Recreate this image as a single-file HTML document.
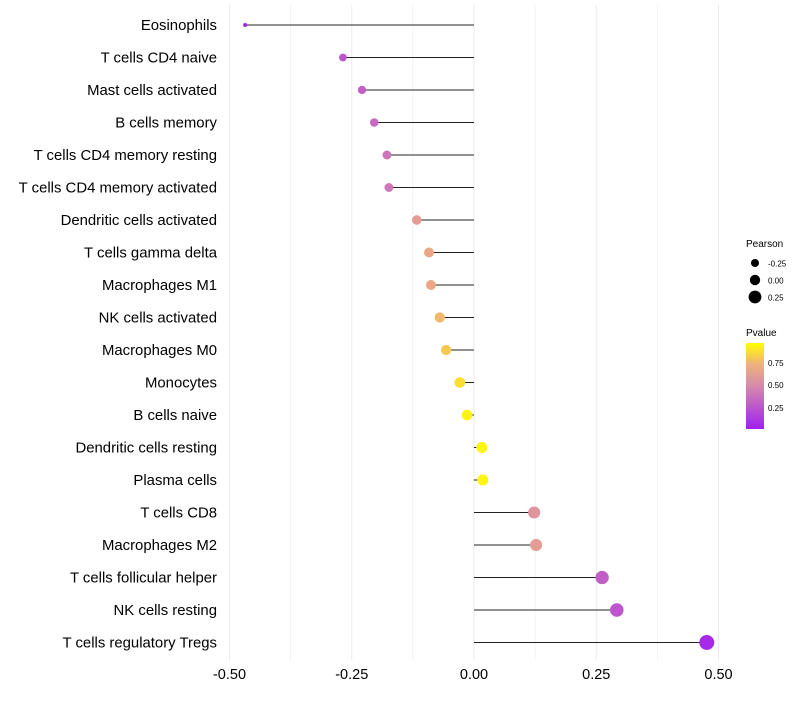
<!DOCTYPE html>
<html><head><meta charset="utf-8"><style>
body{margin:0;background:#fff;}
svg{font-family:"Liberation Sans",Arial,sans-serif;}
</style></head><body>
<svg id="chart" width="800" height="700" xmlns="http://www.w3.org/2000/svg">
<g id="grid"></g>
<g id="marks"></g>
<g id="ylabels"></g>
<g id="xlabels"></g>
<g id="legend">
  <defs><linearGradient id="pg" x1="0" y1="1" x2="0" y2="0">
    <stop offset="0" stop-color="#a020f0"/><stop offset="0.5" stop-color="#d889ac"/><stop offset="0.75" stop-color="#f0b07c"/><stop offset="1" stop-color="#ffff00"/>
  </linearGradient></defs>
  <text x="746" y="247" font-size="10">Pearson</text>
  <circle cx="755" cy="263" r="4" fill="#000"/>
  <text x="768" y="266.5" font-size="8">-0.25</text>
  <circle cx="755" cy="280" r="5.2" fill="#000"/>
  <text x="768" y="283.5" font-size="8">0.00</text>
  <circle cx="755" cy="297" r="6.4" fill="#000"/>
  <text x="768" y="300.5" font-size="8">0.25</text>
  <text x="746" y="336" font-size="10">Pvalue</text>
  <rect x="746" y="343" width="18" height="86" fill="url(#pg)"/>
  <text x="768" y="366" font-size="8">0.75</text>
  <text x="768" y="388" font-size="8">0.50</text>
  <text x="768" y="411" font-size="8">0.25</text>
</g>
</svg>
<script>
const categories=["Eosinophils","T cells CD4 naive","Mast cells activated","B cells memory","T cells CD4 memory resting","T cells CD4 memory activated","Dendritic cells activated","T cells gamma delta","Macrophages M1","NK cells activated","Macrophages M0","Monocytes","B cells naive","Dendritic cells resting","Plasma cells","T cells CD8","Macrophages M2","T cells follicular helper","NK cells resting","T cells regulatory  Tregs"];
const pearson=[-0.468,-0.268,-0.229,-0.204,-0.178,-0.174,-0.117,-0.092,-0.088,-0.070,-0.057,-0.029,-0.014,0.016,0.018,0.123,0.127,0.262,0.292,0.476];
const pvalue=[0.02,0.25,0.3,0.35,0.4,0.42,0.62,0.7,0.7,0.78,0.83,0.9,0.96,0.97,0.97,0.58,0.62,0.3,0.25,0.05];
const xTicks=[-0.5,-0.25,0,0.25,0.5];
const xTickLabels=["-0.50","-0.25","0.00","0.25","0.50"];
const NS="http://www.w3.org/2000/svg";
const X0=474,XS=489;
const xs=v=>X0+v*XS;
const ys=i=>25+i*32.5;
const rs=p=>Math.sqrt(Math.max(2,29.8+55.1*p));
function lerp(a,b,t){return a.map((v,i)=>Math.round(v+(b[i]-v)*t));}
function col(p){
  const stops=[[0,[160,32,240]],[0.5,[216,137,172]],[0.75,[240,176,124]],[1,[255,255,0]]];
  for(let i=0;i<stops.length-1;i++){if(p<=stops[i+1][0]){const t=(p-stops[i][0])/(stops[i+1][0]-stops[i][0]);const c=lerp(stops[i][1],stops[i+1][1],t);return `rgb(${c})`;}}
  return "rgb(255,255,0)";
}
function mk(tag,attrs,parent){const e=document.createElementNS(NS,tag);for(const k in attrs)e.setAttribute(k,attrs[k]);parent.appendChild(e);return e;}
const grid=document.getElementById('grid'),marks=document.getElementById('marks'),yl=document.getElementById('ylabels'),xl=document.getElementById('xlabels');
for(let v=-0.5;v<=0.5001;v+=0.125){
  const g=mk('line',{x1:xs(v),x2:xs(v),y1:5,y2:660,stroke:'#ebebeb','stroke-width':(Math.abs(v*4-Math.round(v*4))<1e-6)?1:0.6},grid);
  
  
}
xTicks.forEach((t,i)=>{
  const e=mk('text',{x:xs(t),y:679,'font-size':14.5,'text-anchor':'middle',fill:'#000'},xl);
  e.textContent=xTickLabels[i];
  
  
});
categories.forEach((c,i)=>{
  const y=ys(i);
  const t=mk('text',{x:217,y:y+5,'font-size':14.9,'text-anchor':'end',fill:'#000'},yl);
  t.textContent=c;
  t.setAttribute('xml:space','preserve');
  
  
  const l=mk('line',{x1:xs(0),x2:xs(pearson[i]),y1:y,y2:y,stroke:'#222','stroke-width':1},marks);
  
  
  const d=mk('circle',{cx:xs(pearson[i]),cy:y,r:rs(pearson[i]),fill:col(pvalue[i])},marks);
  
  
});
</script>
</body></html>
